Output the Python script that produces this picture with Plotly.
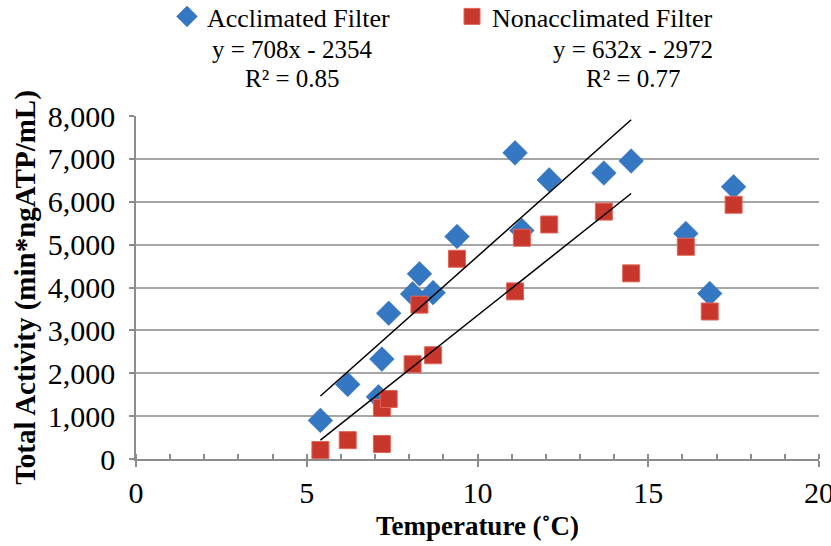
import plotly.graph_objects as go

# Data
acc_temp = [5.4, 6.2, 7.1, 7.2, 7.4, 8.1, 8.3, 8.7, 9.4, 11.1, 11.3, 12.1, 13.7, 14.5, 16.1, 16.8, 17.5]
acc_act = [900, 1740, 1450, 2330, 3400, 3850, 4320, 3880, 5190, 7140, 5330, 6510, 6670, 6950, 5260, 3860, 6350]

non_temp = [5.4, 6.2, 7.2, 7.2, 7.4, 8.1, 8.3, 8.7, 9.4, 11.1, 11.3, 12.1, 13.7, 14.5, 16.1, 16.8, 17.5]
non_act = [210, 440, 350, 1190, 1400, 2210, 3600, 2420, 4670, 3910, 5160, 5470, 5770, 4330, 4950, 3440, 5930]

# Linear trendlines (from the chart's equations)
trend_x_range = [5.4, 14.5]
acc_slope, acc_intercept, acc_r2 = 708, -2354, 0.85
non_slope, non_intercept, non_r2 = 632, -2972, 0.77

x_ticks = [0, 5, 10, 15, 20]
y_ticks = [0, 1000, 2000, 3000, 4000, 5000, 6000, 7000, 8000]

FONT = "Liberation Serif"
BLUE = "#3478C4"
RED = "#C8372B"
GRID = "#A6A6A6"
AXIS = "#8C8C8C"

PW, PH = 831, 546
L, R, T, B = 136, 12, 116, 87
W = PW - L - R
H = PH - T - B

fig = go.Figure()

fig.add_trace(go.Scatter(
    x=acc_temp, y=acc_act, mode="markers", name="Acclimated Filter",
    marker=dict(symbol="diamond", size=19, color=BLUE,
                line=dict(color="#2A64A8", width=0.5))))
fig.add_trace(go.Scatter(
    x=non_temp, y=non_act, mode="markers", name="Nonacclimated Filter",
    marker=dict(symbol="square", size=17, color=RED,
                line=dict(color="#E0675A", width=1))))

fig.add_trace(go.Scatter(
    x=trend_x_range, y=[acc_slope * v + acc_intercept for v in trend_x_range],
    mode="lines", line=dict(color="black", width=1.5), showlegend=False, hoverinfo="skip"))
fig.add_trace(go.Scatter(
    x=trend_x_range, y=[non_slope * v + non_intercept for v in trend_x_range],
    mode="lines", line=dict(color="black", width=1.5), showlegend=False, hoverinfo="skip"))

def eq_text(slope, intercept):
    sign = "-" if intercept < 0 else "+"
    return f"y = {slope}x {sign} {abs(intercept)}"

annos = [
    (292, 49, eq_text(acc_slope, acc_intercept)),
    (292, 79, f"R² = {acc_r2:.2f}"),
    (633, 49, eq_text(non_slope, non_intercept)),
    (633, 79, f"R² = {non_r2:.2f}"),
]
for px, py, t in annos:
    fig.add_annotation(x=(px - L) / W, y=(PH - B - py) / H, xref="paper", yref="paper",
                       xanchor="center", yanchor="middle", text=t, showarrow=False,
                       font=dict(family=FONT, size=25, color="black"))

fig.update_layout(
    width=PW, height=PH,
    template="none",
    margin=dict(l=L, r=R, t=T, b=B, autoexpand=False),
    paper_bgcolor="white", plot_bgcolor="white",
    font=dict(family=FONT, size=25, color="black"),
    showlegend=True,
    legend=dict(orientation="h", xref="paper", yref="paper",
                x=(167 - L) / W, y=(PH - B + 7) / H, yanchor="top", xanchor="left",
                font=dict(family=FONT, size=26, color="black"),
                entrywidth=240, entrywidthmode="pixels",
                bgcolor="rgba(0,0,0,0)", borderwidth=0),
    xaxis=dict(range=[0, 20.0001], tickvals=x_ticks, ticktext=[str(v) for v in x_ticks],
               showgrid=False, zeroline=False,
               showline=True, linecolor=AXIS, linewidth=1.5,
               ticks="outside", ticklen=6, tickcolor=AXIS, tickwidth=1.5,
               minor=dict(dtick=1, tick0=0, ticks="inside", ticklen=5, tickcolor=AXIS, tickwidth=1.5, showgrid=False),
               tickfont=dict(family=FONT, size=30),
               ticklabeloverflow="allow",
               title=dict(text="<b>Temperature (˚C)</b>", font=dict(family=FONT, size=27), standoff=8)),
    yaxis=dict(range=[0, 8000], tickvals=y_ticks, ticktext=[f"{v:,}" for v in y_ticks],
               showgrid=True, gridcolor=GRID, gridwidth=1.5, zeroline=False,
               showline=True, linecolor=AXIS, linewidth=1.5,
               ticks="outside", ticklen=5, tickcolor=AXIS, tickwidth=1.5,
               tickfont=dict(family=FONT, size=30), ticklabelstandoff=8,
               title=dict(text="<b>Total Activity (min*ngATP/mL)</b>", font=dict(family=FONT, size=29), standoff=4)),
)

fig.write_html("out.html")
